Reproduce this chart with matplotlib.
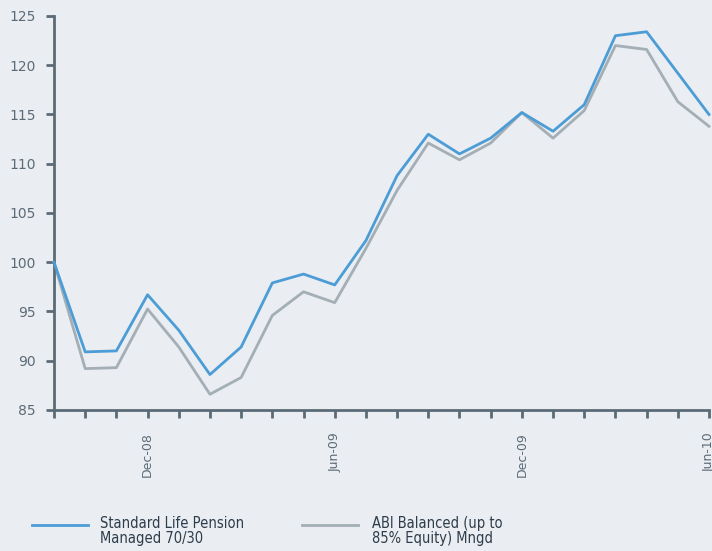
import matplotlib
matplotlib.use("Agg")
import matplotlib.pyplot as plt
from matplotlib.lines import Line2D

months = ["Sep-08", "Oct-08", "Nov-08", "Dec-08", "Jan-09", "Feb-09", "Mar-09",
          "Apr-09", "May-09", "Jun-09", "Jul-09", "Aug-09", "Sep-09", "Oct-09",
          "Nov-09", "Dec-09", "Jan-10", "Feb-10", "Mar-10", "Apr-10", "May-10", "Jun-10"]
standard_life = [100.0, 90.9, 91.0, 96.7, 93.1, 88.6, 91.4, 97.9, 98.8, 97.7, 102.2,
                 108.8, 113.0, 111.0, 112.6, 115.2, 113.3, 116.0, 123.0, 123.4, 119.2, 115.0]
abi_balanced = [100.0, 89.2, 89.3, 95.25, 91.4, 86.6, 88.3, 94.6, 97.0, 95.9, 101.4,
                107.3, 112.1, 110.4, 112.1, 115.2, 112.6, 115.4, 122.0, 121.6, 116.3, 113.8]
labelled = ["Dec-08", "Jun-09", "Dec-09", "Jun-10"]
series_names = ["Standard Life Pension\nManaged 70/30", "ABI Balanced (up to\n85% Equity) Mngd"]

bg = "#EAEDF2"
axis_col = "#5B6B76"
blue = "#4C9CD6"
grey = "#A3AEB5"
text_col = "#2E3D4B"

fig = plt.figure(figsize=(7.12, 5.51), dpi=100, facecolor=bg)
ax = fig.add_axes([54 / 712, (551 - 410) / 551, 655 / 712, 394 / 551], facecolor=bg)

x = list(range(len(months)))
ax.plot(x, standard_life, color=blue, lw=2.0, clip_on=False, zorder=3)
ax.plot(x, abi_balanced, color=grey, lw=2.0, clip_on=False, zorder=2)

ax.set_xlim(0, len(months) - 1)
ax.set_ylim(85, 125)
ax.set_yticks(range(85, 126, 5))
ax.set_xticks(x)
ax.set_xticklabels([m if m in labelled else "" for m in months], rotation=90,
                   fontsize=9, color=axis_col, va="top", ha="center")
for s in ["top", "right"]:
    ax.spines[s].set_visible(False)
for s in ["left", "bottom"]:
    ax.spines[s].set_color(axis_col)
    ax.spines[s].set_linewidth(2)
ax.tick_params(axis="y", length=6, width=2, color=axis_col, labelcolor=axis_col,
               labelsize=10, pad=7)
ax.tick_params(axis="x", length=6, width=2, color=axis_col, pad=10)

# legend
fig.add_artist(Line2D([32 / 712, 88 / 712], [1 - 525 / 551] * 2, color=blue, lw=2.0))
fig.add_artist(Line2D([302 / 712, 358 / 712], [1 - 525 / 551] * 2, color=grey, lw=2.0))
for xpos, name in zip([100, 372], series_names):
    fig.text(xpos / 712, 1 - 516 / 551, name, fontsize=10.5, color=text_col,
             va="top", ha="left", linespacing=1.0,
             family=["DejaVu Sans"], fontstretch="condensed")

fig.savefig("out.png", dpi=100, facecolor=bg)
